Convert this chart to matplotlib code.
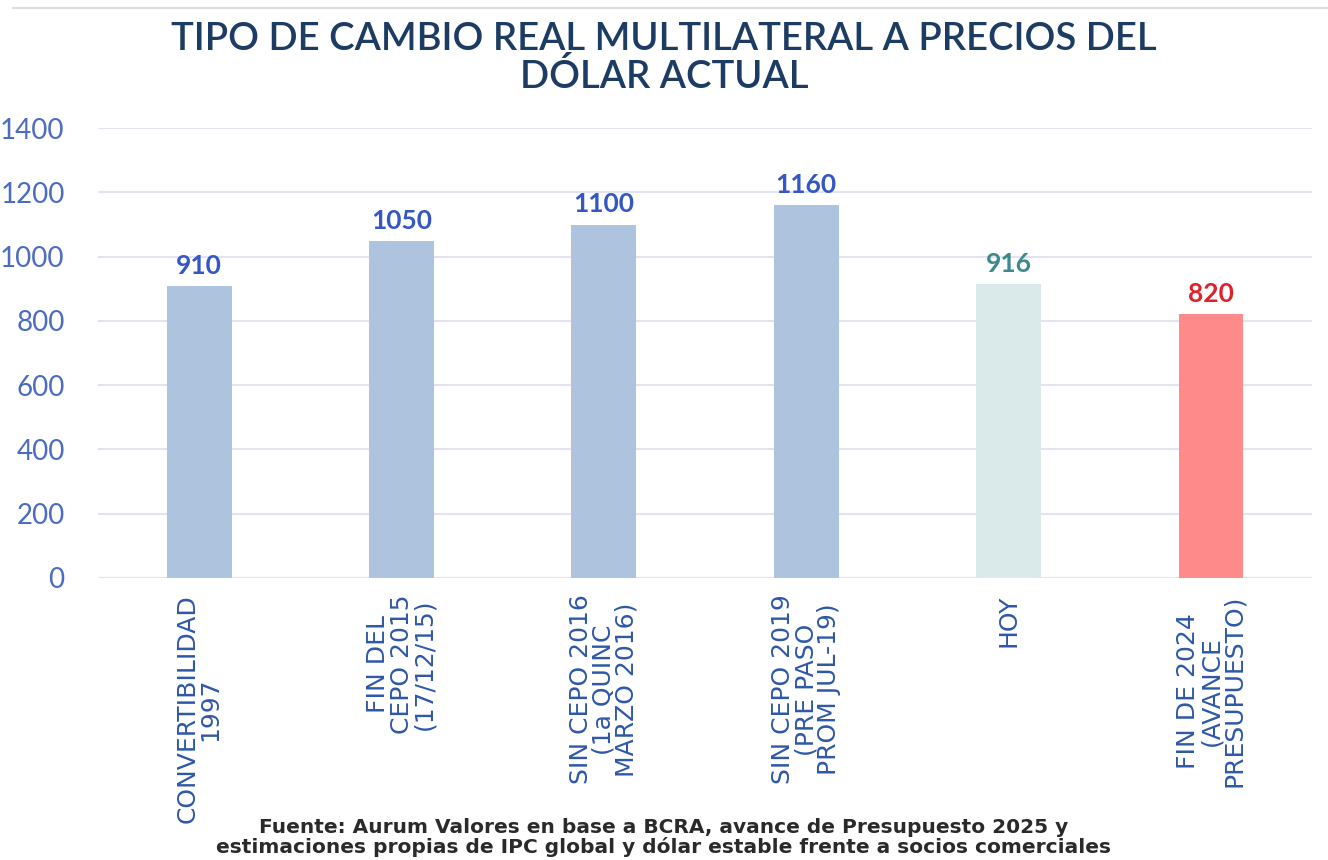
import matplotlib.pyplot as plt
from matplotlib.lines import Line2D
from matplotlib.font_manager import FontProperties

categories = ["CONVERTIBILIDAD\n1997", "FIN DEL\nCEPO 2015\n(17/12/15)",
              "SIN CEPO 2016\n(1a QUINC\nMARZO 2016)", "SIN CEPO 2019\n(PRE PASO\nPROM JUL-19)",
              "HOY", "FIN DE 2024\n(AVANCE\nPRESUPUESTO)"]
values = [910, 1050, 1100, 1160, 916, 820]
bar_colors = ["#adc3de", "#adc3de", "#adc3de", "#adc3de", "#dae9ea", "#ff8a8a"]
label_colors = ["#3557c6", "#3557c6", "#3557c6", "#3557c6", "#3d8a8c", "#e0222c"]
yticks = [0, 200, 400, 600, 800, 1000, 1200, 1400]

plt.rcParams['font.family'] = ['Lato', 'DejaVu Sans']
cat_font = FontProperties(family="DejaVu Sans", size=18)

fig = plt.figure(figsize=(13.28, 8.6), dpi=100)
ax = fig.add_axes([0.0738, 0.328, 0.9142, 0.523])

x = range(len(values))
bars = ax.bar(x, values, width=0.32, color=bar_colors, zorder=2)
for i, b in enumerate(bars):
    ax.text(b.get_x() + b.get_width() / 2, values[i] + 25, str(values[i]),
            ha="center", va="bottom", fontsize=19, fontweight="bold", color=label_colors[i])

ax.set_xlim(-0.5, 5.5)
ax.set_ylim(0, 1400)
ax.set_yticks(yticks)
ax.set_yticklabels([str(t) for t in yticks], fontsize=20, color="#4a6cc2")
ax.yaxis.grid(True, color="#e2e5f1", linewidth=1.5, zorder=0)
ax.set_axisbelow(True)
ax.tick_params(axis="y", length=0, pad=24)
ax.tick_params(axis="x", length=0, pad=12)
ax.set_xticks(list(x))
ax.set_xticklabels(categories, rotation=90, fontproperties=cat_font, color="#2e58a6",
                   va="top", ha="center", multialignment="center", linespacing=0.95)
for s in ax.spines.values():
    s.set_visible(False)

fig.text(0.5, 0.975, "TIPO DE CAMBIO REAL MULTILATERAL A PRECIOS DEL\nDÓLAR ACTUAL",
         ha="center", va="top", fontsize=27.5, fontweight="semibold", color="#1d3c63", linespacing=1.08)
fig.text(0.5, 0.004, "Fuente: Aurum Valores en base a BCRA, avance de Presupuesto 2025 y\n"
         "estimaciones propias de IPC global y dólar estable frente a socios comerciales",
         ha="center", va="bottom", fontsize=14.5, fontweight="bold", color="#2a2a2a", linespacing=0.95,
         family=["DejaVu Sans"])
fig.add_artist(Line2D([0.01, 1.0], [0.991, 0.991], color="#dcdde3", linewidth=1.5))

fig.savefig("out.png", dpi=100, facecolor="white")
